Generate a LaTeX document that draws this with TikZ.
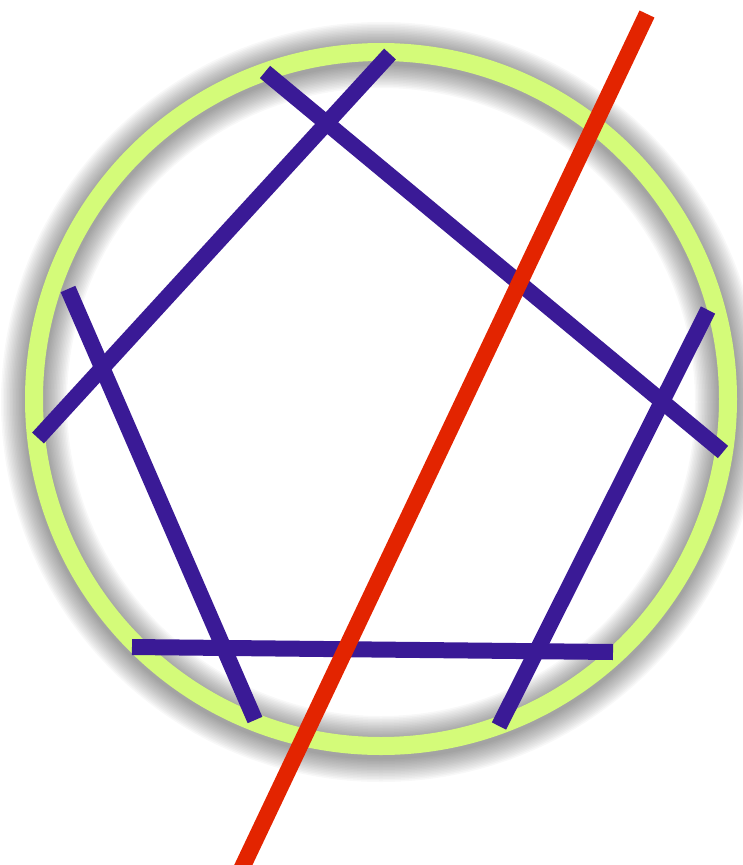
\documentclass[tikz,border=0pt]{standalone}
\usetikzlibrary{calc}
\definecolor{ringgreen}{HTML}{D4FB79}
\definecolor{penblue}{HTML}{3A1A96}
\definecolor{cutred}{HTML}{E32400}
\begin{document}
\begin{tikzpicture}[x=1pt,y=-1pt,
  side/.style={draw=penblue,line width=16pt},
  cut/.style={draw=cutred,line width=16.5pt},
  ring/.style={draw=ringgreen,line width=18pt}]
\useasboundingbox (0,0) rectangle (743,865);
\coordinate (O) at (381,399);
\coordinate (S) at (381,402);
% shadow
\foreach \i in {1,...,16}{
  \draw[black,draw opacity=0.026,line width={18pt+3pt*\i}] (S) circle[radius=347];
}
\draw[ring] (O) circle[radius=347];
% pentagon sides
\coordinate (a1) at (38,438);   \coordinate (a2) at (390,54);
\coordinate (b1) at (265,72);   \coordinate (b2) at (723,452);
\coordinate (c1) at (68,289);   \coordinate (c2) at (255,720);
\coordinate (d1) at (708,310);  \coordinate (d2) at (499,726);
\coordinate (e1) at (132,647);  \coordinate (e2) at (613,652);
\draw[side] (a1) -- (a2);
\draw[side] (b1) -- (b2);
\draw[side] (c1) -- (c2);
\draw[side] (d1) -- (d2);
\draw[side] (e1) -- (e2);
% red line
\coordinate (r1) at (647,14);
\coordinate (r2) at (240,872);
\draw[cut] (r1) -- (r2);
\end{tikzpicture}
\end{document}
